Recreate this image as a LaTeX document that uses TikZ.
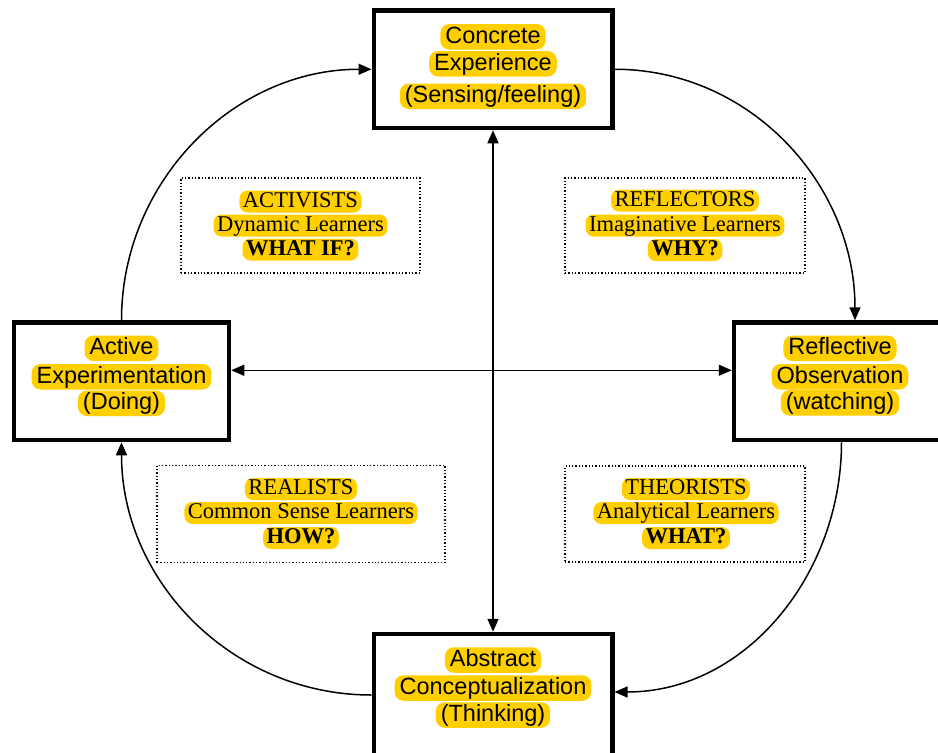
\documentclass[tikz,border=0pt]{standalone}
\usepackage{fontspec}
\setmainfont{Liberation Serif}
\newfontfamily\arialfont{Liberation Sans}
\usepackage{tikz}
\usetikzlibrary{positioning,calc}
\usetikzlibrary{arrows.meta}
\definecolor{hlyellow}{RGB}{255,207,0}
\tikzstyle{stage} = [rectangle, draw=black, line width=4.5pt, fill=white, minimum width=238.5pt, minimum height=117.5pt]
\tikzstyle{quad} = [rectangle, draw=black, line width=1.3pt, dotted, minimum width=240pt, minimum height=95pt]
\tikzstyle{hl} = [fill=hlyellow, rounded corners=9pt, inner xsep=5pt, inner ysep=1.5pt, text height=17.5pt, text depth=5pt, font=\arialfont\fontsize{23.5}{28}\selectfont]
\tikzstyle{qhl} = [fill=hlyellow, rounded corners=8pt, inner xsep=3.5pt, inner ysep=1pt, text height=15.5pt, text depth=4.5pt, font=\fontsize{22.5}{24}\selectfont]
\tikzstyle{arrow} = [line width=1.5pt, -{Triangle[length=13pt,width=11pt]}]
\tikzstyle{twoway} = [line width=1.5pt, {Triangle[length=13pt,width=11pt]}-{Triangle[length=13pt,width=11pt]}]

\begin{document}
\begin{tikzpicture}[x=1pt,y=1pt]
\fill[white] (0,0) rectangle (938,-753);
\useasboundingbox (0,0) rectangle (938,-753);
% the four stages
\node (ce) [stage] at (493,-69.25) {};
\node (ro) [stage, minimum width=215pt] at (841.5,-381.25) {};
\node (ac) [stage, minimum height=122pt] at (493,-695) {};
\node (ae) [stage, minimum width=215pt] at (121.5,-381.25) {};
\node (ce1) [hl] at ($(ce)+(0,32.5)$) {Concrete};
\node (ce2) [hl] at ($(ce)+(0,5.5)$) {Experience};
\node (ce3) [hl] at ($(ce)+(0,-27)$) {(Sensing/feeling)};
\node (ro1) [hl] at ($(ro)+(-1.5,33)$) {Reflective};
\node (ro2) [hl] at ($(ro)+(-1.5,4.5)$) {Observation};
\node (ro3) [hl] at ($(ro)+(-1.5,-21.5)$) {(watching)};
\node (ac1) [hl] at ($(ac)+(0,35)$) {Abstract};
\node (ac2) [hl] at ($(ac)+(0,7)$) {Conceptualization};
\node (ac3) [hl] at ($(ac)+(0,-20)$) {(Thinking)};
\node (ae1) [hl] at ($(ae)+(0,33)$) {Active};
\node (ae2) [hl] at ($(ae)+(0,4.5)$) {Experimentation};
\node (ae3) [hl] at ($(ae)+(0,-22)$) {(Doing)};
% learner types
\node (activ) [quad, minimum width=239pt] at (300.5,-225.5) {};
\node (reflec) [quad] at (685,-225.5) {};
\node (real) [quad, minimum width=288pt, minimum height=97pt] at (301,-514) {};
\node (theor) [quad, minimum height=96pt] at (685,-514) {};
\node (activ1) [qhl] at ($(activ)+(0,24)$) {ACTIVISTS};
\node (activ2) [qhl] at (activ) {Dynamic Learners};
\node (activ3) [qhl] at ($(activ)+(0,-24)$) {\bfseries WHAT IF?};
\node (reflec1) [qhl] at ($(reflec)+(0,25)$) {REFLECTORS};
\node (reflec2) [qhl] at (reflec) {Imaginative Learners};
\node (reflec3) [qhl] at ($(reflec)+(0,-24.5)$) {\bfseries WHY?};
\node (real1) [qhl] at ($(real)+(0,25)$) {REALISTS};
\node (real2) [qhl] at ($(real)+(0,1)$) {Common Sense Learners};
\node (real3) [qhl] at ($(real)+(0,-24)$) {\bfseries HOW?};
\node (theor1) [qhl] at ($(theor)+(1,25)$) {THEORISTS};
\node (theor2) [qhl] at ($(theor)+(1,1)$) {Analytical Learners};
\node (theor3) [qhl] at ($(theor)+(1,-24)$) {\bfseries WHAT?};
% the cycle
\draw[arrow] (ce.east) to[out=0,in=90] ([xshift=13.5pt]ro.north);
\draw[arrow] (ro.south) to[out=-90,in=0] ([yshift=3pt]ac.east);
\draw[arrow] (ac.west) to[out=180,in=-90] (ae.south);
\draw[arrow] (ae.north) to[out=90,in=180] (ce.west);
\draw[twoway] (ce.south) -- (ac.north);
\draw[twoway] ([yshift=11pt]ae.east) -- ([yshift=11pt]ro.west);
\end{tikzpicture}
\end{document}
